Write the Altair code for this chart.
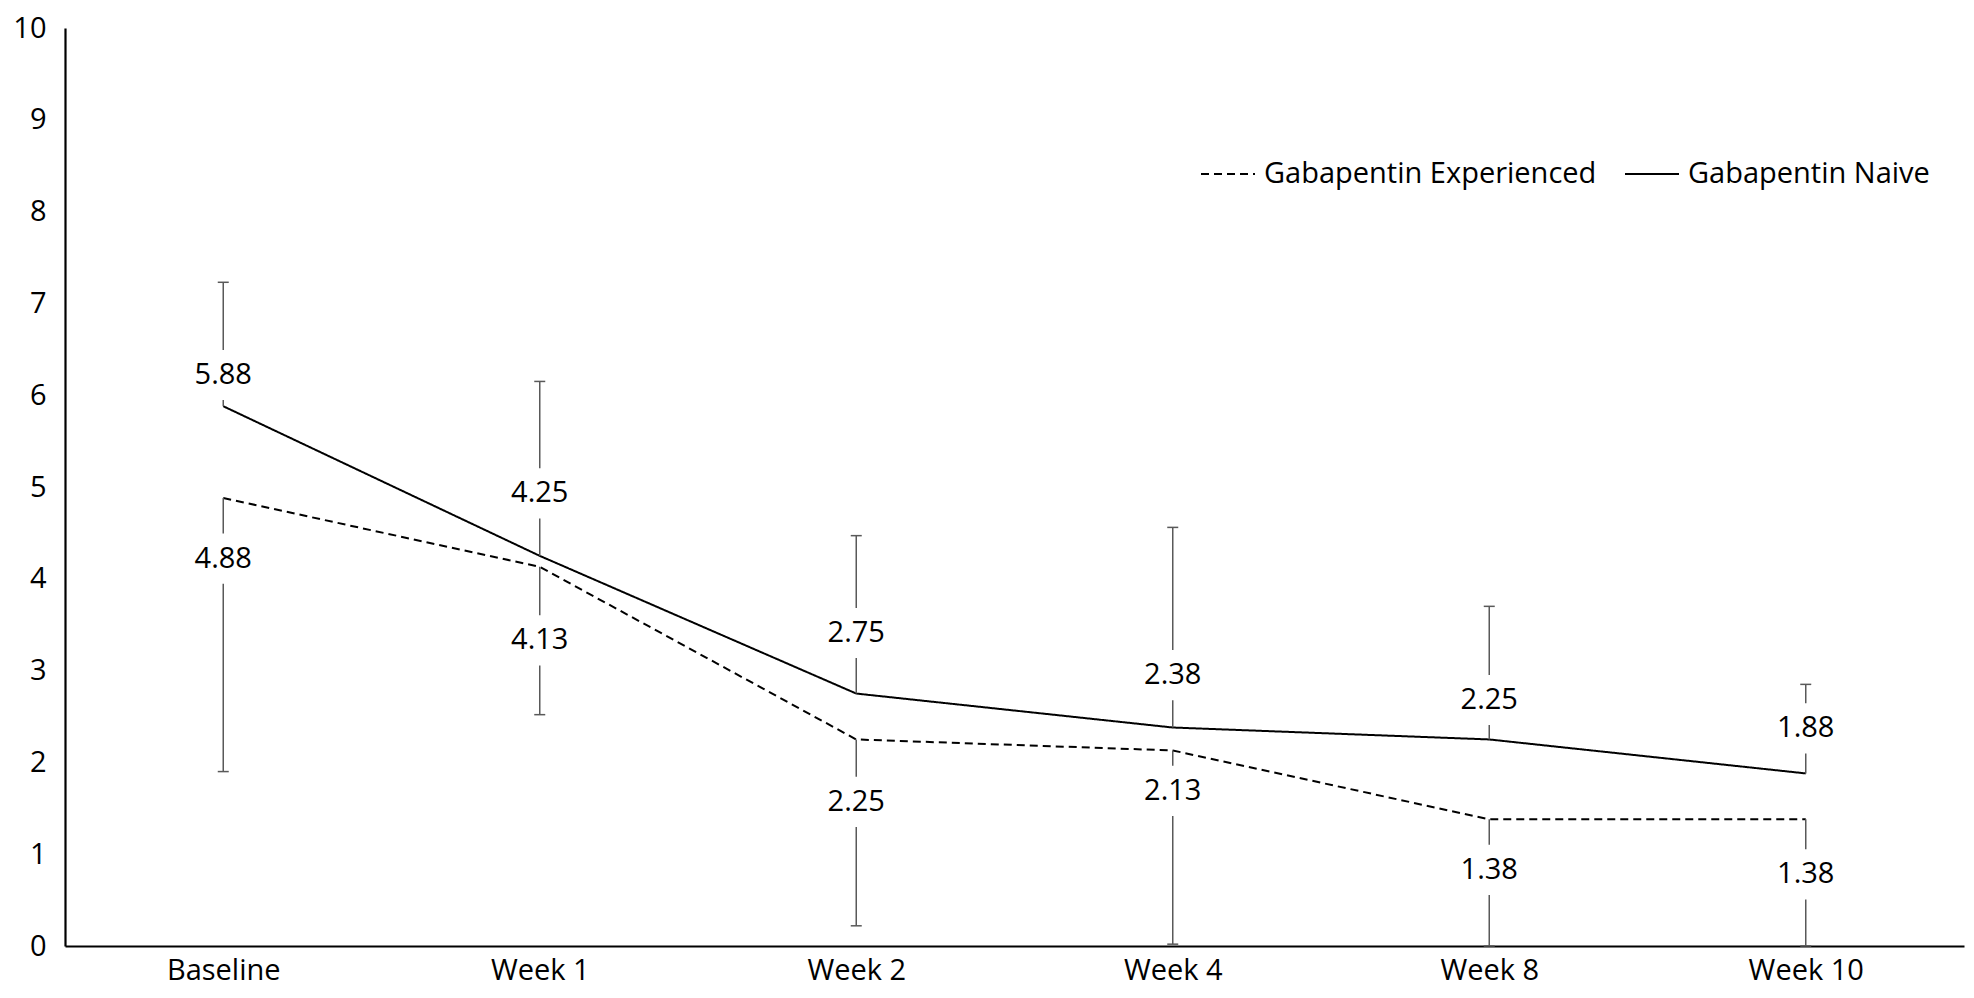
import altair as alt
import pandas as pd

categories = ["Baseline", "Week 1", "Week 2", "Week 4", "Week 8", "Week 10"]
series_names = ["Gabapentin Experienced", "Gabapentin Naive"]

naive_values = [5.88, 4.25, 2.75, 2.38, 2.25, 1.88]
naive_upper = [7.23, 6.15, 4.47, 4.56, 3.70, 2.85]
naive_label_at = [6.22, 4.93, 3.41, 2.95, 2.68, 2.37]

exp_values = [4.88, 4.13, 2.25, 2.13, 1.38, 1.38]
exp_lower = [1.90, 2.52, 0.22, 0.02, 0.0, 0.0]
exp_label_at = [4.22, 3.33, 1.57, 1.69, 0.83, 0.78]

rows = []
for i, c in enumerate(categories):
    rows.append(dict(cat=c, series=series_names[1], value=naive_values[i],
                     err=naive_upper[i], lab=naive_label_at[i],
                     text=f"{naive_values[i]:.2f}"))
    rows.append(dict(cat=c, series=series_names[0], value=exp_values[i],
                     err=exp_lower[i], lab=exp_label_at[i],
                     text=f"{exp_values[i]:.2f}"))
df = pd.DataFrame(rows)

FONT = "Open Sans"
FS = 29
ERR = "#595959"

x_enc = alt.X("cat:N", sort=categories,
              scale=alt.Scale(type="point", padding=0.5),
              axis=alt.Axis(title=None, labelAngle=0, ticks=False, tickSize=0,
                            labelPadding=10, labelFont=FONT, labelFontSize=FS,
                            labelColor="black", domainColor="black",
                            domainWidth=2.2, grid=False))
y_scale = alt.Scale(domain=[0, 10], nice=False)
y_enc = alt.Y("value:Q", scale=y_scale,
              axis=alt.Axis(title=None, values=list(range(0, 11)), format="d",
                            ticks=False, tickSize=0, labelPadding=19,
                            labelFont=FONT, labelFontSize=FS,
                            labelColor="black", domainColor="black",
                            domainWidth=2.2, grid=False))

base = alt.Chart(df)

lines = base.mark_line(color="black", strokeWidth=2).encode(
    x=x_enc,
    y=y_enc,
    strokeDash=alt.StrokeDash(
        "series:N",
        scale=alt.Scale(domain=series_names, range=[[8, 5], [1, 0]]),
        legend=alt.Legend(orient="none", legendX=1135, legendY=118,
                          direction="horizontal", title=None,
                          symbolType="stroke", symbolSize=2916,
                          symbolStrokeWidth=2, symbolStrokeColor="black",
                          labelFont=FONT, labelFontSize=FS, labelColor="black",
                          labelOffset=8, columnPadding=24, labelLimit=0),
    ),
    detail="series:N",
)

rules = base.mark_rule(color=ERR, strokeWidth=1.5).encode(
    x=alt.X("cat:N", sort=categories),
    y=alt.Y("value:Q", scale=y_scale),
    y2="err:Q",
)

caps = base.mark_tick(color=ERR, thickness=1.5, size=11, opacity=1).encode(
    x=alt.X("cat:N", sort=categories),
    y=alt.Y("err:Q", scale=y_scale),
)

boxes = base.mark_point(
    shape="M-1,-0.76L1,-0.76L1,0.76L-1,0.76Z",
    filled=True, fill="white", opacity=1, strokeWidth=0, size=66 * 66,
).encode(
    x=alt.X("cat:N", sort=categories),
    y=alt.Y("lab:Q", scale=y_scale),
)

texts = base.mark_text(font=FONT, fontSize=FS, color="black",
                       baseline="middle", align="center").encode(
    x=alt.X("cat:N", sort=categories),
    y=alt.Y("lab:Q", scale=y_scale),
    text="text:N",
)

chart = alt.layer(lines, rules, caps, boxes, texts).properties(
    width=1899,
    height=918,
    autosize=alt.AutoSizeParams(type="none"),
    padding={"left": 57, "top": 20, "right": 2, "bottom": 40},
    background="white",
).configure_view(stroke=None)

chart.save("out.html", embed_options={"renderer": "svg", "actions": False})
